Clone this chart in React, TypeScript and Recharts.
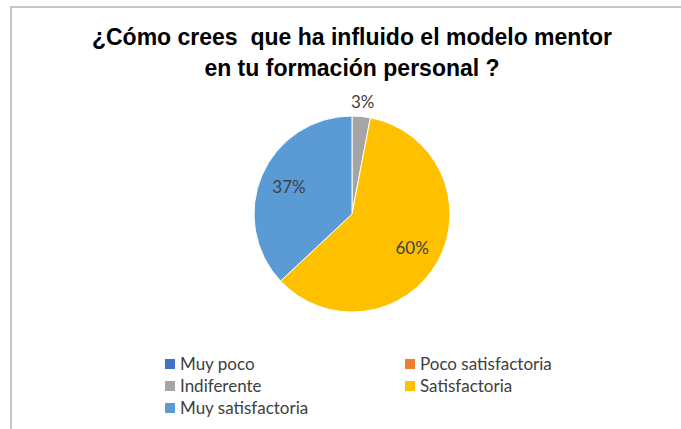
import { PieChart, Pie, Cell, Legend } from "recharts";

const CATEGORIES = [
  "Muy poco",
  "Poco satisfactoria",
  "Indiferente",
  "Satisfactoria",
  "Muy satisfactoria",
];
const VALUES = [0, 0, 3, 60, 37];
const COLORS = ["#4472C4", "#ED7D31", "#A5A5A5", "#FFC000", "#5B9BD5"];

const TITLE_LINES = [
  "¿Cómo crees  que ha influido el modelo mentor",
  "en tu formación personal ?",
];

const RAD = Math.PI / 180;

interface LabelProps {
  cx: number;
  cy: number;
  midAngle: number;
  outerRadius: number;
  percent: number;
  value: number;
}

function SliceLabel({ cx, cy, midAngle, outerRadius, percent, value }: LabelProps) {
  if (!value) return null;
  // small slices get their label outside, like Excel's best fit
  const r = percent < 0.1 ? outerRadius + 15 : outerRadius * 0.7;
  const x = cx + r * Math.cos(-midAngle * RAD);
  const y = cy + r * Math.sin(-midAngle * RAD);
  return (
    <text
      x={x}
      y={y}
      fill="#404040"
      fontSize={17}
      fontFamily="Lato, sans-serif"
      textAnchor="middle"
      dominantBaseline="central"
    >
      {`${Math.round(percent * 100)}%`}
    </text>
  );
}

interface LegendItem {
  value: string;
  color: string;
}

function GridLegend({ payload }: { payload?: LegendItem[] }) {
  // keep the legend in category order, two columns
  const items: LegendItem[] = CATEGORIES.map((c, i) => {
    const p = payload?.find((e) => e.value === c);
    return { value: c, color: p?.color ?? COLORS[i] };
  });
  return (
    <div
      style={{
        display: "grid",
        gridTemplateColumns: "240px 240px",
        paddingLeft: 165,
        fontFamily: "Lato, sans-serif",
        fontSize: 17,
        lineHeight: "22px",
        color: "#404040",
      }}
    >
      {items.map((it) => (
        <div key={it.value} style={{ display: "flex", alignItems: "center", whiteSpace: "nowrap" }}>
          <span
            style={{
              display: "inline-block",
              width: 10,
              height: 10,
              background: it.color,
              marginRight: 5,
            }}
          />
          {it.value}
        </div>
      ))}
    </div>
  );
}

export default function App() {
  const data = CATEGORIES.map((name, i) => ({ name, value: VALUES[i] }));

  return (
    <div
      style={{
        position: "absolute",
        left: 0,
        top: 0,
        width: 681,
        height: 429,
        background: "#fff",
        overflow: "hidden",
      }}
    >
      {/* chart frame, cut off on right and bottom */}
      <div
        style={{
          position: "absolute",
          left: 10,
          top: 6,
          right: -10,
          bottom: -10,
          borderLeft: "2px solid #C6C6C6",
          borderTop: "2px solid #C6C6C6",
        }}
      />
      <div
        style={{
          position: "absolute",
          left: 0,
          top: 0,
          width: 704,
          textAlign: "center",
          fontFamily: "'Liberation Sans', Arial, sans-serif",
          fontWeight: "bold",
          fontSize: 23,
          color: "#000",
        }}
      >
        <div style={{ position: "absolute", top: 24, width: "100%", whiteSpace: "pre" }}>
          {TITLE_LINES[0]}
        </div>
        <div style={{ position: "absolute", top: 55, width: "100%", whiteSpace: "pre" }}>
          {TITLE_LINES[1]}
        </div>
      </div>
      <PieChart width={681} height={429} style={{ position: "absolute", left: 0, top: 0 }}>
        <Pie
          data={data}
          dataKey="value"
          nameKey="name"
          cx={347}
          cy={209}
          outerRadius={98}
          startAngle={90}
          endAngle={-270}
          stroke="#fff"
          strokeWidth={1}
          label={SliceLabel}
          labelLine={false}
          isAnimationActive={false}
        >
          {data.map((_, i) => (
            <Cell key={i} fill={COLORS[i]} />
          ))}
        </Pie>
        <Legend
          content={<GridLegend />}
          wrapperStyle={{ left: 0, top: 353, width: 681 }}
        />
      </PieChart>
    </div>
  );
}
